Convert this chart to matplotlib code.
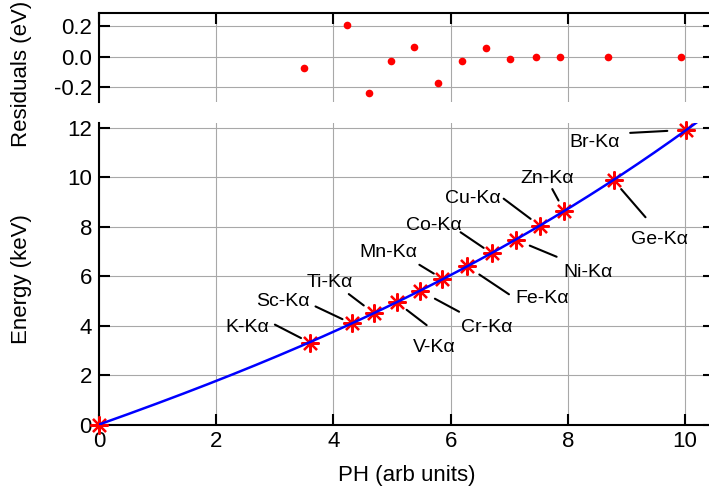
import numpy as np
import matplotlib.pyplot as plt

plt.rcParams['font.family'] = ['Liberation Sans', 'DejaVu Sans']
plt.rcParams['axes.unicode_minus'] = False

# calibration lines: name, energy (keV), pulse height (arb units)
lines = ['K-Kα', 'Sc-Kα', 'Ti-Kα', 'V-Kα', 'Cr-Kα', 'Mn-Kα', 'Fe-Kα',
         'Co-Kα', 'Ni-Kα', 'Cu-Kα', 'Zn-Kα', 'Ge-Kα', 'Br-Kα']
energy = [3.314, 4.090, 4.510, 4.952, 5.414, 5.898, 6.403,
          6.930, 7.477, 8.047, 8.638, 9.886, 11.924]
ph = [3.60, 4.31, 4.69, 5.08, 5.48, 5.86, 6.28,
      6.70, 7.11, 7.52, 7.94, 8.78, 10.02]

# fit residuals
res_ph = [3.50, 4.23, 4.60, 4.99, 5.38, 5.79, 6.20,
          6.61, 7.02, 7.45, 7.86, 8.69, 9.93]
residuals = [-0.078, 0.21, -0.242, -0.027, 0.062, -0.176, -0.031,
             0.057, -0.018, 0.0, 0.0, 0.0, 0.0]

# label placement (pixels from the point): text, leader start, gap at point
text_off = [(-62.5, 15), (-69, 22), (-44, 31), (38, -45), (67, -37), (-54, 26), (75, -32),
            (-58, 28), (72, -33), (-67, 27), (-17, 33), (46, -59), (-92, -13)]
lead_off = [(-35, 18), (-36, 17), (-25, 19), (30, -23), (39, -21), (-23, 14), (42, -28),
            (-31, 21), (41, -17), (-36, 27), (-12, 22), (32, -37), (-56, -3)]
lead_gap = [10, 10, 12.6, 12.6, 16.8, 10, 14.8, 9.6, 15.3, 11.3, 12, 11.7, 18.9]

fig = plt.figure(figsize=(7.09, 4.95), dpi=100)
ax_res = fig.add_axes([0.1395, 0.794, 0.868, 0.180])
ax = fig.add_axes([0.1395, 0.1424, 0.868, 0.609])

grid_kw = dict(color='#a8a8a8', linewidth=0.8)
tick_kw = dict(direction='in', length=8, width=1.5, labelsize=16, pad=5)

# residuals panel
ax_res.plot(res_ph, residuals, 'o', color='red', markersize=5.5, markeredgewidth=0)
ax_res.set_xlim(0, 10.5)
ax_res.set_ylim(-0.3, 0.29)
ax_res.set_xticks([0, 2, 4, 6, 8, 10])
ax_res.set_yticks([-0.2, 0.0, 0.2])
ax_res.set_yticklabels(['-0.2', '0.0', '0.2'])
ax_res.grid(True, **grid_kw)
ax_res.set_axisbelow(True)
ax_res.spines['bottom'].set_visible(False)
ax_res.spines['right'].set_visible(False)
for s in ['top', 'left']:
    ax_res.spines[s].set_linewidth(1.5)
ax_res.tick_params(top=True, bottom=False, left=True, right=True,
                   labelbottom=False, **tick_kw)

# energy calibration panel
x_all = np.array([0.0] + ph)
e_all = np.array([0.0] + energy)
coef = np.polyfit(x_all, e_all, 3)
xs = np.linspace(0, 10.5, 300)
ax.plot(x_all, e_all, linestyle='none', marker=(8, 2, 0), color='red',
        markersize=13, markeredgewidth=1.6, clip_on=False, zorder=3)
ax.plot(xs, np.polyval(coef, xs), color='blue', linewidth=1.8, zorder=4)

for name, x, y, t, l, g in zip(lines, ph, energy, text_off, lead_off, lead_gap):
    ax.annotate(name, xy=(x, y), xytext=t, textcoords='offset pixels',
                ha='center', va='center', fontsize=14)
    ax.annotate('', xy=(x, y), xytext=l, textcoords='offset pixels',
                arrowprops=dict(arrowstyle='-', color='black', linewidth=1.5,
                                shrinkA=0, shrinkB=g * 0.72))

ax.set_xlim(0, 10.5)
ax.set_ylim(0, 12.2)
ax.set_xticks([0, 2, 4, 6, 8, 10])
ax.set_yticks([0, 2, 4, 6, 8, 10, 12])
ax.grid(True, **grid_kw)
ax.set_axisbelow(True)
ax.spines['top'].set_visible(False)
ax.spines['right'].set_visible(False)
for s in ['bottom', 'left']:
    ax.spines[s].set_linewidth(1.5)
ax.tick_params(left=True, right=True, bottom=True, **tick_kw)
ax.set_xlabel('PH (arb units)', fontsize=16, labelpad=9)

fig.text(0.031, 0.85, 'Residuals (eV)', rotation=90, ha='center', va='center', fontsize=16)
fig.text(0.031, 0.436, 'Energy (keV)', rotation=90, ha='center', va='center', fontsize=16)

fig.savefig('out.png', dpi=100)
